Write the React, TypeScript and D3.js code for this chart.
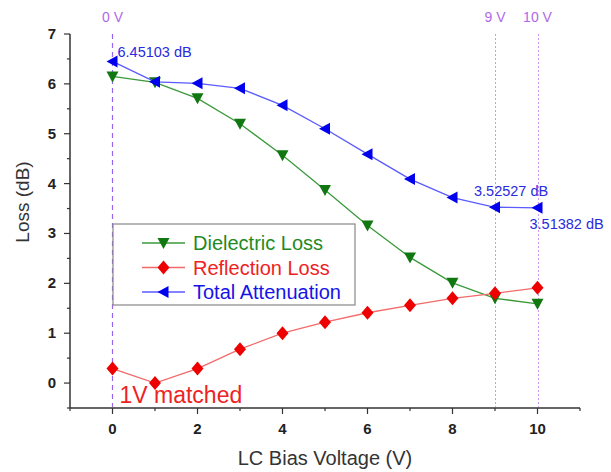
import React from "react";
import { scaleLinear, line, range } from "d3";

const voltages = [0, 1, 2, 3, 4, 5, 6, 7, 8, 9, 10];
const dielectricLoss = [6.15, 6.03, 5.71, 5.2, 4.57, 3.87, 3.16, 2.52, 2.01, 1.7, 1.59];
const reflectionLoss = [0.29, 0.0, 0.29, 0.68, 1.0, 1.22, 1.41, 1.56, 1.7, 1.8, 1.91];
const totalAttenuation = [6.45103, 6.04, 6.01, 5.91, 5.57, 5.1, 4.59, 4.09, 3.72, 3.52527, 3.51382];

const xTicks = [0, 2, 4, 6, 8, 10];
const yTicks = [0, 1, 2, 3, 4, 5, 6, 7];
const markerVolts = [0, 9, 10];

const W = 611;
const H = 472;
const M = { left: 70, right: 31, top: 34, bottom: 64 };

export default function App() {
  const x = scaleLinear().domain([-1, 11]).range([M.left, W - M.right]);
  const y = scaleLinear().domain([-0.5, 7]).range([H - M.bottom, M.top]);
  const x0 = y(-0.5);

  const pts = (vals: number[]) => vals.map((v, i) => [voltages[i], v] as [number, number]);
  const path = line<[number, number]>()
    .x((d) => x(d[0]))
    .y((d) => y(d[1]));

  const font = "'Liberation Sans', Arial, sans-serif";

  const downTri = (cx: number, cy: number, c: string, k: string | number) => (
    <path key={k} d={`M${cx - 6},${cy - 5}L${cx + 6},${cy - 5}L${cx},${cy + 6}Z`} fill={c} />
  );
  const diamond = (cx: number, cy: number, c: string, k: string | number) => (
    <path key={k} d={`M${cx},${cy - 7}L${cx + 6},${cy}L${cx},${cy + 7}L${cx - 6},${cy}Z`} fill={c} />
  );
  const leftTri = (cx: number, cy: number, c: string, k: string | number) => (
    <path key={k} d={`M${cx - 6},${cy}L${cx + 5},${cy - 6}L${cx + 5},${cy + 6}Z`} fill={c} />
  );

  const series = [
    { name: "Dielectric Loss", vals: dielectricLoss, line: "#3a9a3a", fill: "#117711", text: "#1f8a1f", mark: downTri },
    { name: "Reflection Loss", vals: reflectionLoss, line: "#f26a6a", fill: "#ee0000", text: "#ee2222", mark: diamond },
    { name: "Total Attenuation", vals: totalAttenuation, line: "#5a5aff", fill: "#0000ee", text: "#1414e6", mark: leftTri },
  ];

  return (
    <svg width={W} height={H} style={{ position: "absolute", left: 0, top: 0, background: "#fff" }} fontFamily={font}>
      {/* voltage guide lines */}
      {markerVolts.map((v) => (
        <g key={v}>
          <line
            x1={Math.round(x(v)) + 0.5}
            x2={Math.round(x(v)) + 0.5}
            y1={y(7)}
            y2={x0 - 1}
            stroke={v === 0 ? "#9966ee" : "#cc99f0"}
            strokeWidth={v === 0 ? 1.2 : 1}
            strokeDasharray={v === 0 ? "5,4" : "2,2"}
          />
          <text x={x(v)} y={22} textAnchor="middle" fontSize={14} fill="#b068e8">
            {v} V
          </text>
        </g>
      ))}

      {/* axes */}
      <line x1={M.left} x2={M.left} y1={y(7)} y2={x0} stroke="#333" strokeWidth={1.5} />
      <line x1={M.left} x2={W - M.right} y1={x0} y2={x0} stroke="#333" strokeWidth={1.5} />
      {range(-0.5, 7.01, 0.5).map((t) => {
        const major = Number.isInteger(t);
        return <line key={t} x1={M.left} x2={M.left - (major ? 6 : 3)} y1={y(t)} y2={y(t)} stroke="#333" strokeWidth={1.2} />;
      })}
      {range(-1, 11.01, 1).map((t) => {
        const major = t % 2 === 0 && t >= 0;
        return <line key={t} x1={x(t)} x2={x(t)} y1={x0} y2={x0 + (major ? 6 : 3)} stroke="#333" strokeWidth={1.2} />;
      })}
      {yTicks.map((t) => (
        <text key={t} x={M.left - 14} y={y(t) + 5} textAnchor="end" fontSize={15} fontWeight="bold" fill="#222">
          {t}
        </text>
      ))}
      {xTicks.map((t) => (
        <text key={t} x={x(t)} y={x0 + 26} textAnchor="middle" fontSize={15} fontWeight="bold" fill="#222">
          {t}
        </text>
      ))}
      <text x={325} y={465} textAnchor="middle" fontSize={20} fill="#333">
        LC Bias Voltage (V)
      </text>
      <text transform="translate(29,202) rotate(-90)" textAnchor="middle" fontSize={19} fill="#333">
        Loss (dB)
      </text>

      {/* series */}
      {series.map((s) => (
        <g key={s.name}>
          <path d={path(pts(s.vals)) ?? ""} fill="none" stroke={s.line} strokeWidth={1.3} />
          {s.vals.map((v, i) => s.mark(x(voltages[i]), y(v), s.fill, i))}
        </g>
      ))}

      {/* annotations */}
      <text x={x(0) + 5} y={y(totalAttenuation[0]) - 4} fontSize={14.5} fill="#2a2ae0">
        {totalAttenuation[0]} dB
      </text>
      <text x={x(9) - 21} y={y(totalAttenuation[9]) - 11} fontSize={14.5} fill="#2a2ae0">
        {totalAttenuation[9]} dB
      </text>
      <text x={x(10) - 8} y={y(totalAttenuation[10]) + 21} fontSize={14.5} fill="#2a2ae0">
        {totalAttenuation[10]} dB
      </text>
      <text x={x(0) + 7} y={y(reflectionLoss[1]) + 20} fontSize={23} fill="#ee2222">
        1V matched
      </text>

      {/* legend */}
      <rect x={113} y={224} width={242} height={81} fill="#fff" stroke="#888" strokeWidth={1.2} />
      {series.map((s, i) => {
        const cy = 243 + i * 24.5;
        return (
          <g key={s.name}>
            <line x1={142} x2={185} y1={cy} y2={cy} stroke={s.line} strokeWidth={1.3} />
            {s.mark(163.5, cy, s.fill, "m")}
            <text x={193} y={cy + 7} fontSize={20} fill={s.text}>
              {s.name}
            </text>
          </g>
        );
      })}
    </svg>
  );
}
